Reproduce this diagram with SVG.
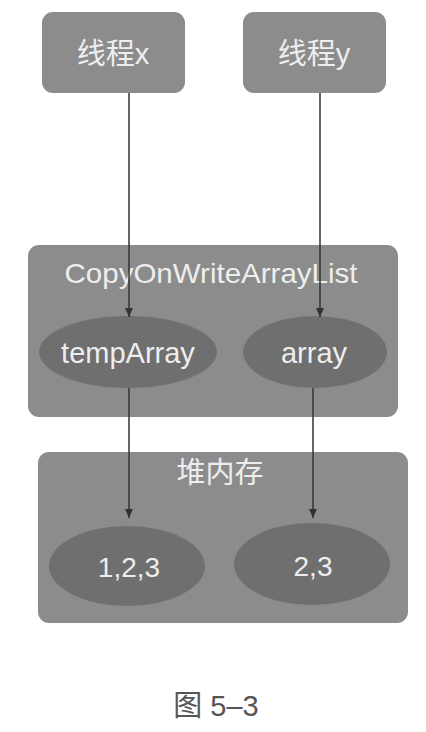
<svg xmlns="http://www.w3.org/2000/svg" width="426" height="732" viewBox="0 0 426 732">
<style>
.box{fill:#8c8c8c}
.ell{fill:#6f6f6f}
.t{fill:#eeeeee;font-family:"Liberation Sans","Noto Sans CJK SC",sans-serif;text-anchor:middle}
.c{stroke:#333;stroke-width:1.5;fill:none;marker-end:url(#ah)}
</style>
<defs>
<marker id="ah" markerWidth="10" markerHeight="10" refX="9" refY="5" orient="auto" markerUnits="userSpaceOnUse">
<path d="M0,1 L9,5 L0,9 Z" fill="#333"/>
</marker>
</defs>
<rect width="426" height="732" fill="#fff"/>
<g id="threadX"><rect class="box" x="42" y="12" width="143" height="81" rx="11"/><text class="t" x="113" y="64" font-size="29">线程x</text></g>
<g id="threadY"><rect class="box" x="243" y="12" width="143" height="81" rx="11"/><text class="t" x="314" y="64" font-size="29">线程y</text></g>
<g id="cowal"><rect class="box" x="28" y="245" width="370" height="172" rx="11"/><text class="t" x="211" y="283" font-size="28" textLength="293" lengthAdjust="spacingAndGlyphs">CopyOnWriteArrayList</text></g>
<g id="tempArray"><ellipse class="ell" cx="128" cy="352" rx="89" ry="36"/><text class="t" x="128" y="363" font-size="29">tempArray</text></g>
<g id="array"><ellipse class="ell" cx="315" cy="352" rx="72" ry="36"/><text class="t" x="314" y="363" font-size="29">array</text></g>
<g id="heap"><rect class="box" x="38" y="452" width="370" height="171" rx="11"/><text class="t" x="220" y="483" font-size="29">堆内存</text></g>
<g id="v123"><ellipse class="ell" cx="127" cy="566" rx="78" ry="40"/><text class="t" x="129" y="577" font-size="28">1,2,3</text></g>
<g id="v23"><ellipse class="ell" cx="312" cy="564" rx="78" ry="41"/><text class="t" x="313" y="576" font-size="28">2,3</text></g>
<g id="connectors">
<line class="c" x1="129" y1="93" x2="129" y2="317"/>
<line class="c" x1="320" y1="93" x2="320" y2="317"/>
<line class="c" x1="129" y1="388" x2="129" y2="518"/>
<line class="c" x1="313" y1="388" x2="313" y2="518"/>
</g>
<text x="216" y="716" font-size="29" fill="#555" font-family="'Liberation Sans','Noto Sans CJK SC',sans-serif" text-anchor="middle">图 5–3</text>
</svg>
